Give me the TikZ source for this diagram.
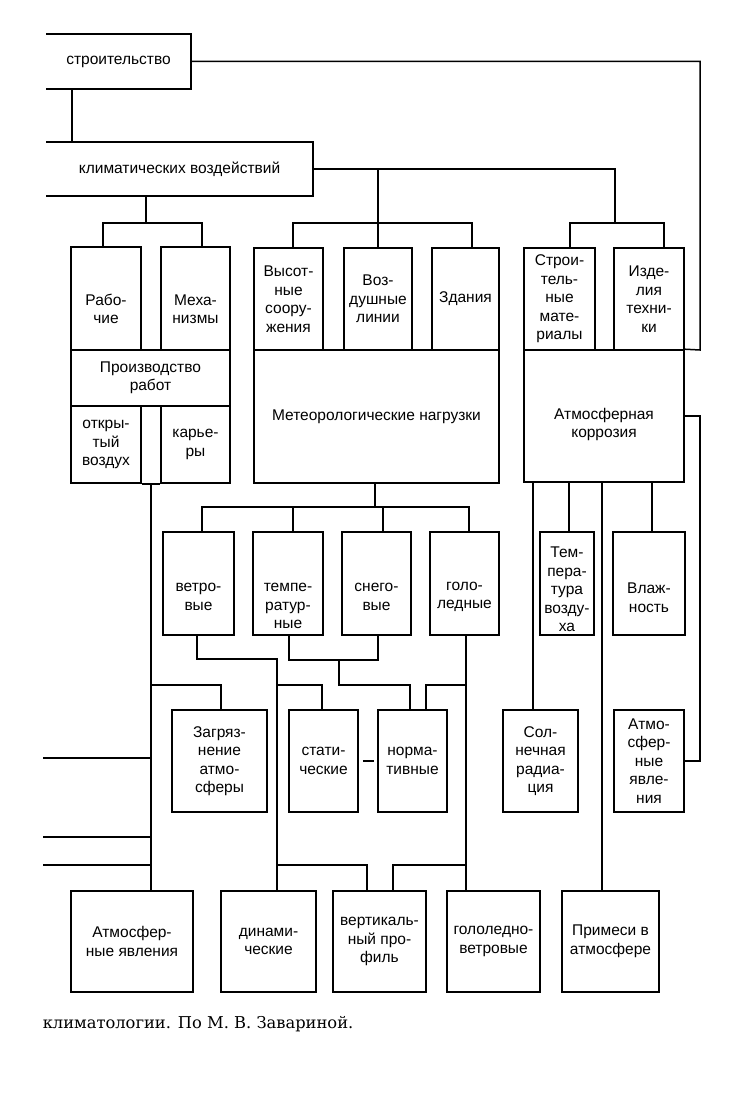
\documentclass[tikz,border=0pt]{standalone}
\usepackage{fontspec}
\setmainfont{Liberation Sans}
\newfontfamily\podpis{DejaVu Serif}
\tikzset{blok/.style={draw, line width=1.6pt, align=center, inner sep=0pt, font=\fontsize{15.5}{18.5}\selectfont},
%box size in px
razm/.style 2 args={minimum width=#1pt, minimum height=#2pt}}
%strut that pushes the text down inside a box
\newcommand{\vrez}[1]{\rule{0pt}{#1pt}}

\begin{document}
\begin{tikzpicture}[x=1pt,y=-1pt,line width=1.5pt]
\useasboundingbox (0,0) rectangle (736,1115);

% top boxes, open on the left
\node[blok, draw=none, razm={143}{53}] (stroi) at (118.5,61.5) {строительство};
\draw[line width=1.6pt] (stroi.north west) -- (stroi.north east) -- (stroi.south east) -- (stroi.south west);
\node[blok, draw=none, razm={265}{52}] (klim) at (179.5,169) {климатических воздействий};
\draw[line width=1.6pt] (klim.north west) -- (klim.north east) -- (klim.south east) -- (klim.south west);

% left group
\node[blok, razm={70}{103}] (rab) at (106,298.5) {\vrez{32.5}Рабо-\\чие};
\node[blok, razm={69}{103}] (meh) at (195.5,298.5) {\vrez{32.5}Меха-\\низмы};
\node[blok, razm={159}{56}] (proizv) at (150.5,378) {Производство\\работ};
\node[blok, razm={70}{77}] (otkr) at (106,444.5) {откры-\\тый\\воздух};
\node[blok, razm={69}{77}] (kar) at (195.5,444.5) {карье-\\ры};
\draw[line width=1.6pt] (otkr.south east) -- (kar.south west);

% middle group
\node[blok, razm={69}{102}] (vys) at (288.5,299) {Высот-\\ные\\соору-\\жения};
\node[blok, razm={68}{102}] (vozd) at (378,299) {Воз-\\душные\\линии};
\node[blok, razm={67}{102}] (zd) at (465.5,299) {Здания};
\node[blok, razm={245}{133}] (meteo) at (376.5,416.5) {Метеорологические нагрузки};

% right group
\node[blok, razm={71}{102}] (strm) at (559.5,299) {Строи-\\тель-\\ные\\мате-\\риалы};
\node[blok, razm={70}{102}] (izd) at (649,299) {Изде-\\лия\\техни-\\ки};
\node[blok, razm={160}{132}] (korr) at (604,416) {\vrez{28}Атмосферная\\коррозия};

% second row
\node[blok, razm={71}{103}] (vetr) at (198.5,583.5) {\vrez{35.5}ветро-\\вые};
\node[blok, razm={70}{103}] (temp) at (288,583.5) {\vrez{54}темпе-\\ратур-\\ные};
\node[blok, razm={69}{103}] (sneg) at (376.5,583.5) {\vrez{35.5}снего-\\вые};
\node[blok, razm={69}{103}] (gol) at (464.5,583.5) {\vrez{35.5}голо-\\ледные};
\node[blok, razm={54}{103}] (tvoz) at (567,583.5) {\vrez{23}Тем-\\пера-\\тура\\возду-\\ха};
\node[blok, razm={72}{103}] (vlazh) at (649,583.5) {\vrez{39.5}Влаж-\\ность};

% third row
\node[blok, razm={95}{102}] (zagr) at (219.5,761) {Загряз-\\нение\\атмо-\\сферы};
\node[blok, razm={69}{102}] (stat) at (323.5,761) {стати-\\ческие};
\node[blok, razm={69}{102}] (norm) at (412.5,761) {норма-\\тивные};
\node[blok, razm={75}{102}] (soln) at (540.5,761) {Сол-\\нечная\\радиа-\\ция};
\node[blok, razm={70}{102}] (yavl) at (649,761) {Атмо-\\сфер-\\ные\\явле-\\ния};

% bottom row
\node[blok, razm={122}{101}] (atmyavl) at (132,941.5) {Атмосфер-\\ные явления};
\node[blok, razm={95}{101}] (dinam) at (268.5,941.5) {динами-\\ческие};
\node[blok, razm={93}{101}] (vert) at (379.5,941.5) {вертикаль-\\ный про-\\филь};
\node[blok, razm={93}{101}] (gvetr) at (493.5,941.5) {гололедно-\\ветровые};
\node[blok, razm={97}{101}] (prim) at (610.5,941.5) {Примеси в\\атмосфере};

\node[font=\podpis\fontsize{16.3}{19}\selectfont, anchor=west, inner sep=0pt] (podp) at (42,1024) {климатологии. По М. В. Завариной.};

% right bar
\coordinate (pr) at (700,350);
\draw (stroi.east) -| (pr) -- (korr.north east);
\draw (stroi.south -| 72,0) -- (klim.north -| 72,0);

% to the three groups
\coordinate (kl) at (146,223);
\coordinate (km) at (378,223);
\coordinate (kr) at (615,223);
\draw (klim.south -| kl) -- (kl);
\draw (rab.north -| 103,0) |- (kl) -| (meh.north -| 202,0);
\draw (klim.east) -| (kr);
\draw (vozd.north) -- (vozd.north |- klim.east);
\draw (vys.north -| 293,0) |- (km) -| (zd.north -| 472,0);
\draw (strm.north -| 570,0) |- (kr) -| (izd.north -| 664,0);

% loads
\coordinate (mb) at (375,507);
\draw (meteo.south -| mb) -- (mb);
\draw (vetr.north -| 202,0) |- (mb) -| (gol.north -| 469,0);
\draw (temp.north -| 293,0) |- (mb);
\draw (sneg.north -| 383,0) |- (mb);

% corrosion
\foreach \x/\cel in {533/soln, 569/tvoz, 602/prim, 652/vlazh}
  \draw (korr.south -| \x,0) -- (\cel.north -| \x,0);
\draw (korr.east) -- (korr.east -| pr) |- (yavl.east);

% long left line
\coordinate (l1) at (151,685);
\draw (otkr.south -| l1) -- (atmyavl.north -| l1);
\draw (l1) -| (zagr.north -| 221,0);
\foreach \y [count=\i] in {758,837,865} {
  \coordinate (obr\i) at (43,\y);
  \draw (obr\i) -- (obr\i -| l1);
}

% wind line
\coordinate (v1) at (277,659);
\coordinate (v2) at (277,685);
\coordinate (v3) at (277,865);
\draw (vetr.south -| 197,0) |- (v1) -- (dinam.north -| v1);
\draw (v2) -| (stat.north -| 322,0);
\draw (v3) -| (vert.north -| 367,0);

% temperature and snow
\coordinate (t1) at (339,660);
\draw (temp.south -| 289,0) |- (t1) -| (sneg.south -| 378,0);
\draw (t1) -- ++(0,25) -| (norm.north -| 410,0);

% ice line
\coordinate (g1) at (466,685);
\coordinate (g2) at (466,865);
\draw (gol.south -| g1) -- (gvetr.north -| g1);
\draw (g1) -| (norm.north -| 426,0);
\draw (g2) -| (vert.north -| 393,0);

\draw[shorten <=4pt, shorten >=3pt] (stat.east) -- (norm.west);

\end{tikzpicture}
\end{document}
